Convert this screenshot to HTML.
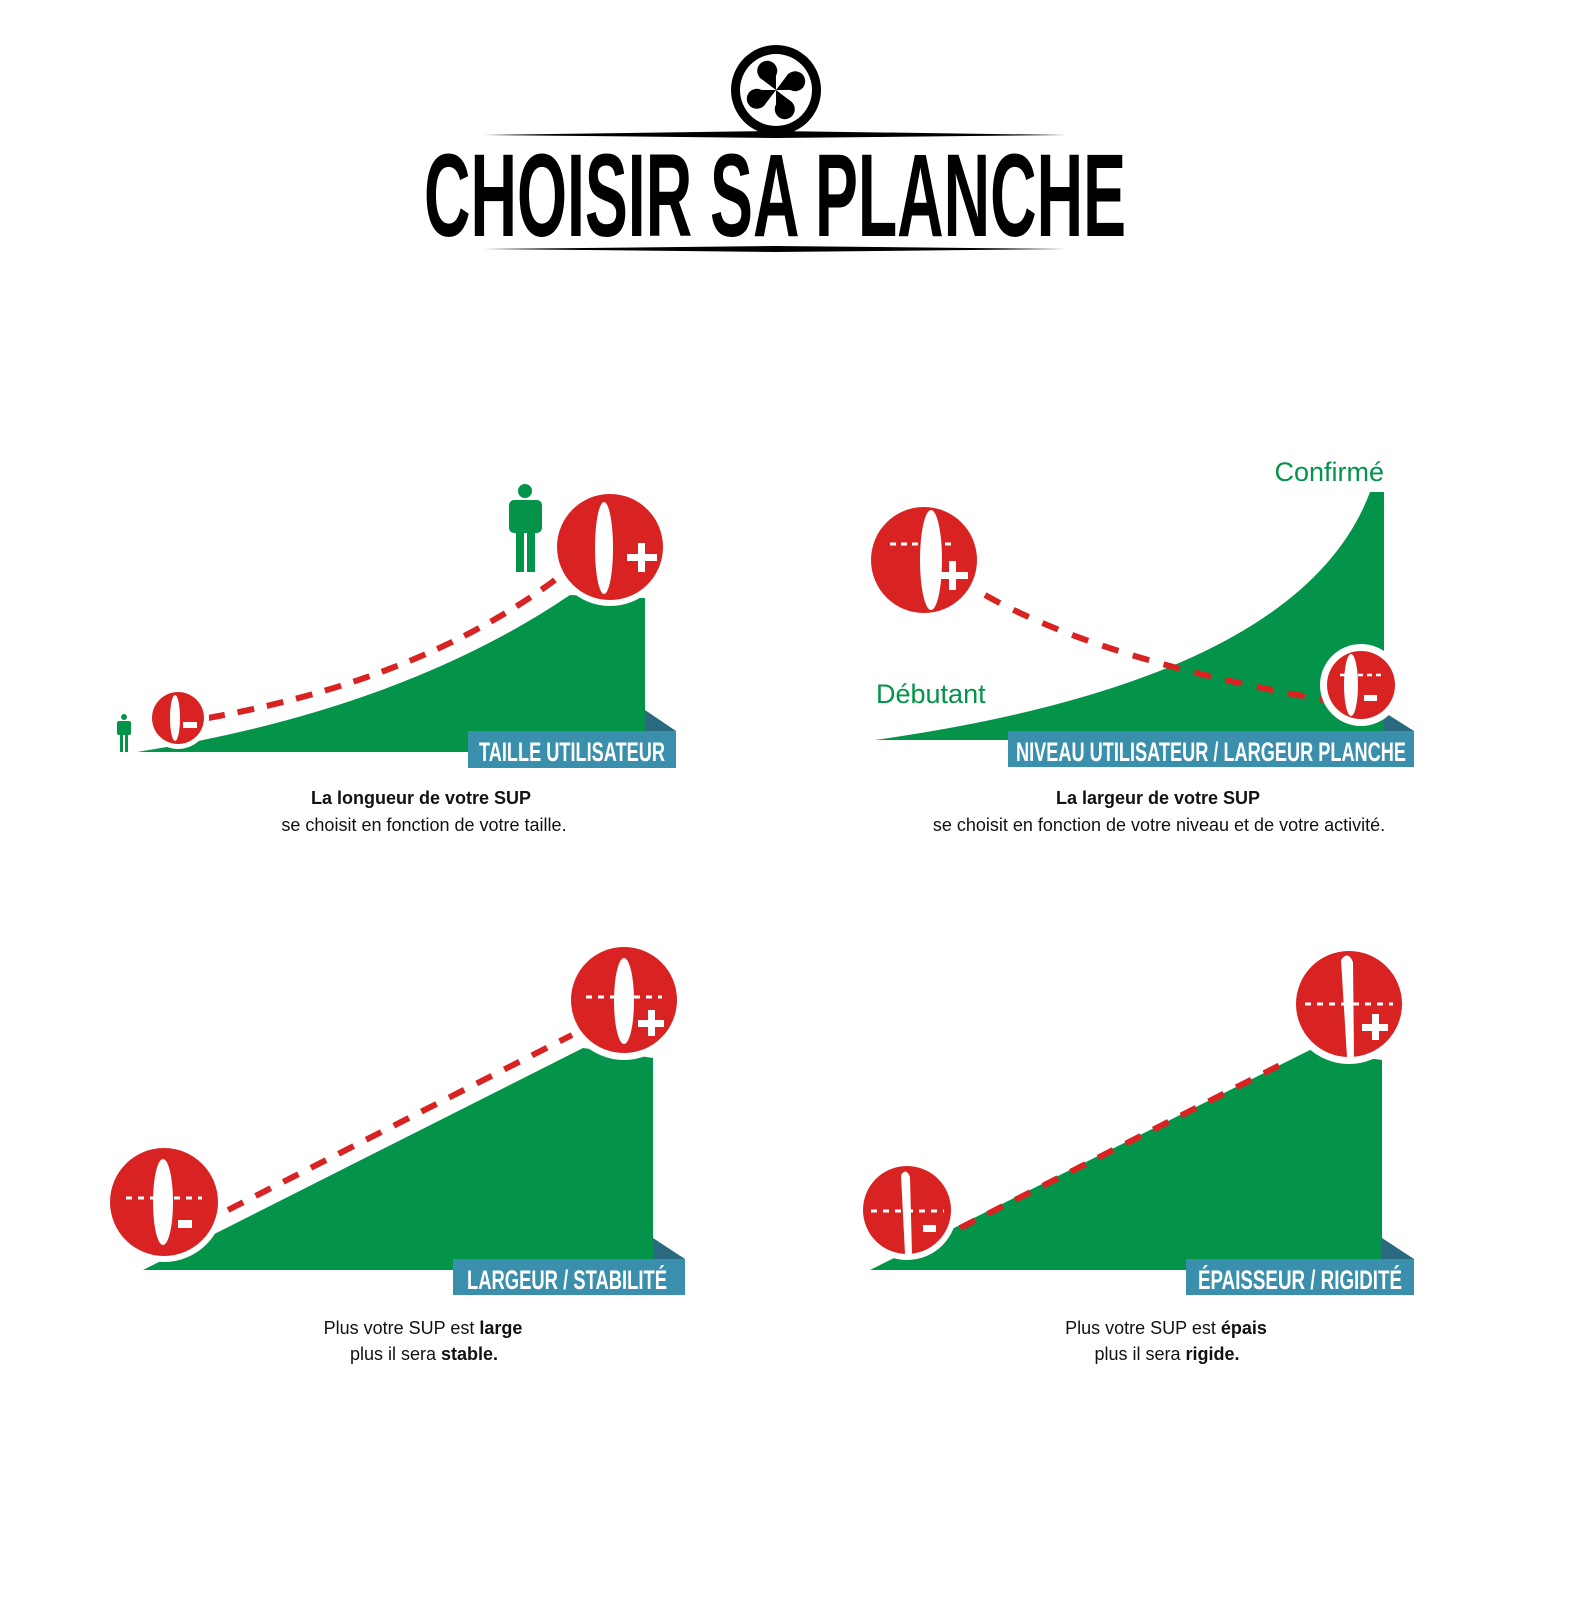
<!DOCTYPE html>
<html><head><meta charset="utf-8">
<style>
html,body{margin:0;padding:0;background:#fff;width:100%;height:100%;overflow:hidden;}
svg{display:block;width:100vw;height:100vh;}
.lbl{font-family:"Liberation Sans Narrow","Liberation Sans",sans-serif;font-weight:bold;fill:#fff;}
.cap{font-family:"Liberation Sans",sans-serif;font-size:18px;fill:#111;text-anchor:middle;}
.g{font-family:"Liberation Sans",sans-serif;font-size:27px;fill:#03944a;}
</style></head>
<body>
<svg viewBox="0 0 1576 1597" preserveAspectRatio="none" xmlns="http://www.w3.org/2000/svg">
<defs>
<g id="arm"><path d="M0,0 L-8,-19 L12,-21 Z" fill="#000"/><circle cx="2" cy="-21" r="10" fill="#000"/></g>
</defs>
<!-- Title -->
<g>
<circle cx="776" cy="90" r="45" fill="#000"/>
<circle cx="776" cy="90" r="36" fill="#fff"/>
<g transform="translate(776,90)">
<use href="#arm" transform="rotate(-30)"/>
<use href="#arm" transform="rotate(60)"/>
<use href="#arm" transform="rotate(150)"/>
<use href="#arm" transform="rotate(240)"/>
</g>
</g>
<path d="M484,135 L776,131 L1066,135 L776,138 Z" fill="#000"/>
<path d="M484,249 L776,246 L1066,249 L776,252 Z" fill="#000"/>
<text x="775" y="236" text-anchor="middle" font-family="Liberation Sans Narrow,Liberation Sans,sans-serif" font-weight="bold" font-size="118" textLength="702" lengthAdjust="spacingAndGlyphs" fill="#000">CHOISIR SA PLANCHE</text>

<!-- Panel 1 -->
<g>
<path d="M137,752 Q400,710 570,595 L645,598 L645,752 Z" fill="#03944a"/>
<path d="M645,710 L676,731 L645,731 Z" fill="#2a6a80"/>
<rect x="468" y="731" width="208" height="37" fill="#3a8fad"/>
<text class="lbl" x="572" y="761" font-size="27" text-anchor="middle" textLength="186" lengthAdjust="spacingAndGlyphs">TAILLE UTILISATEUR</text>
<path d="M208,718 Q420,680 555,580" fill="none" stroke="#d92323" stroke-width="6" stroke-dasharray="17,13"/>
<circle cx="610" cy="547" r="59" fill="#fff"/><circle cx="610" cy="547" r="53" fill="#d92323"/>
<ellipse cx="604" cy="548" rx="9" ry="46" fill="#fff"/>
<rect x="627" y="554" width="30" height="7" fill="#fff"/><rect x="638" y="543" width="7" height="29" fill="#fff"/>
<circle cx="178" cy="718" r="31" fill="#fff"/><circle cx="178" cy="718" r="26" fill="#d92323"/>
<ellipse cx="175" cy="718" rx="5" ry="23" fill="#fff"/><rect x="183" y="722" width="14" height="6" fill="#fff"/>
<g fill="#03944a">
<circle cx="525" cy="491" r="7"/><rect x="509" y="500" width="33" height="33" rx="5"/><rect x="516" y="530" width="8" height="42"/><rect x="527" y="530" width="8" height="42"/>
</g>
<g fill="#03944a">
<circle cx="124" cy="717" r="3"/><rect x="117" y="721" width="14" height="14" rx="2"/><rect x="120" y="733" width="3" height="19"/><rect x="125" y="733" width="3" height="19"/>
</g>
<text class="cap" x="421" y="804" font-weight="bold">La longueur de votre SUP</text>
<text class="cap" x="424" y="831">se choisit en fonction de votre taille.</text>
</g>

<!-- Panel 2 -->
<g>
<path d="M875,740 Q1300,680 1370,492 L1384,492 L1384,740 Z" fill="#03944a"/>
<path d="M1384,712 L1414,731 L1384,731 Z" fill="#2a6a80"/>
<rect x="1008" y="731" width="406" height="36" fill="#3a8fad"/>
<text class="lbl" x="1211" y="761" font-size="27" text-anchor="middle" textLength="390" lengthAdjust="spacingAndGlyphs">NIVEAU UTILISATEUR / LARGEUR PLANCHE</text>
<path d="M985,595 Q1100,660 1325,700" fill="none" stroke="#d92323" stroke-width="6" stroke-dasharray="17,15"/>
<text class="g" x="1384" y="481" text-anchor="end">Confirmé</text>
<text class="g" x="876" y="703">Débutant</text>
<circle cx="924" cy="560" r="53" fill="#d92323"/>
<ellipse cx="931" cy="560" rx="11" ry="50" fill="#fff"/>
<line x1="890" y1="544" x2="955" y2="544" stroke="#fff" stroke-width="3" stroke-dasharray="6,5"/>
<rect x="938" y="572" width="30" height="7" fill="#fff"/><rect x="949" y="561" width="7" height="29" fill="#fff"/>
<circle cx="1361" cy="685" r="41" fill="#fff"/><circle cx="1361" cy="685" r="34" fill="#d92323"/>
<ellipse cx="1351" cy="685" rx="7" ry="31" fill="#fff"/>
<line x1="1340" y1="675" x2="1384" y2="675" stroke="#fff" stroke-width="2.5" stroke-dasharray="5,4"/>
<rect x="1364" y="695" width="13" height="6" fill="#fff"/>
<text class="cap" x="1158" y="804" font-weight="bold">La largeur de votre SUP</text>
<text class="cap" x="1159" y="831">se choisit en fonction de votre niveau et de votre activité.</text>
</g>

<!-- Panel 3 -->
<g>
<path d="M143,1270 L583,1048 L653,1058 L653,1270 Z" fill="#03944a"/>
<path d="M653,1238 L685,1259 L653,1259 Z" fill="#2a6a80"/>
<rect x="453" y="1259" width="232" height="36" fill="#3a8fad"/>
<text class="lbl" x="567" y="1289" font-size="27" text-anchor="middle" textLength="200" lengthAdjust="spacingAndGlyphs">LARGEUR / STABILITÉ</text>
<path d="M228,1210 L572,1035" fill="none" stroke="#d92323" stroke-width="6" stroke-dasharray="17,14"/>
<circle cx="624" cy="1000" r="60" fill="#fff"/><circle cx="624" cy="1000" r="53" fill="#d92323"/>
<ellipse cx="624" cy="1001" rx="10" ry="43" fill="#fff"/>
<line x1="586" y1="997" x2="662" y2="997" stroke="#fff" stroke-width="3" stroke-dasharray="6,6"/>
<rect x="638" y="1020" width="26" height="7" fill="#fff"/><rect x="648" y="1010" width="7" height="26" fill="#fff"/>
<circle cx="164" cy="1202" r="60" fill="#fff"/><circle cx="164" cy="1202" r="54" fill="#d92323"/>
<ellipse cx="163" cy="1202" rx="10" ry="43" fill="#fff"/>
<line x1="126" y1="1198" x2="202" y2="1198" stroke="#fff" stroke-width="3" stroke-dasharray="6,6"/>
<rect x="178" y="1220" width="14" height="8" fill="#fff"/>
<text class="cap" x="423" y="1334">Plus votre SUP est <tspan font-weight="bold">large</tspan></text>
<text class="cap" x="424" y="1360">plus il sera <tspan font-weight="bold">stable.</tspan></text>
</g>

<!-- Panel 4 -->
<g>
<path d="M870,1270 L1310,1050 L1382,1060 L1382,1270 Z" fill="#03944a"/>
<path d="M1382,1238 L1414,1259 L1382,1259 Z" fill="#2a6a80"/>
<rect x="1186" y="1259" width="228" height="36" fill="#3a8fad"/>
<text class="lbl" x="1300" y="1289" font-size="27" text-anchor="middle" textLength="204" lengthAdjust="spacingAndGlyphs">ÉPAISSEUR / RIGIDITÉ</text>
<path d="M960,1228 L1290,1060" fill="none" stroke="#d92323" stroke-width="6" stroke-dasharray="17,14"/>
<circle cx="1349" cy="1004" r="60" fill="#fff"/><circle cx="1349" cy="1004" r="53" fill="#d92323"/>
<path d="M1341,960 Q1348,950 1353,962 L1354,1057 L1347,1057 Z" fill="#fff"/>
<line x1="1305" y1="1004" x2="1393" y2="1004" stroke="#fff" stroke-width="3" stroke-dasharray="6,6"/>
<rect x="1362" y="1024" width="26" height="7" fill="#fff"/><rect x="1372" y="1014" width="7" height="26" fill="#fff"/>
<circle cx="907" cy="1210" r="50" fill="#fff"/><circle cx="907" cy="1210" r="44" fill="#d92323"/>
<path d="M901,1175 Q906,1167 910,1177 L912,1254 L905,1254 Z" fill="#fff"/>
<line x1="871" y1="1211" x2="944" y2="1211" stroke="#fff" stroke-width="3" stroke-dasharray="6,6"/>
<rect x="923" y="1225" width="13" height="7" fill="#fff"/>
<text class="cap" x="1166" y="1334">Plus votre SUP est <tspan font-weight="bold">épais</tspan></text>
<text class="cap" x="1167" y="1360">plus il sera <tspan font-weight="bold">rigide.</tspan></text>
</g>
</svg>
</body></html>
